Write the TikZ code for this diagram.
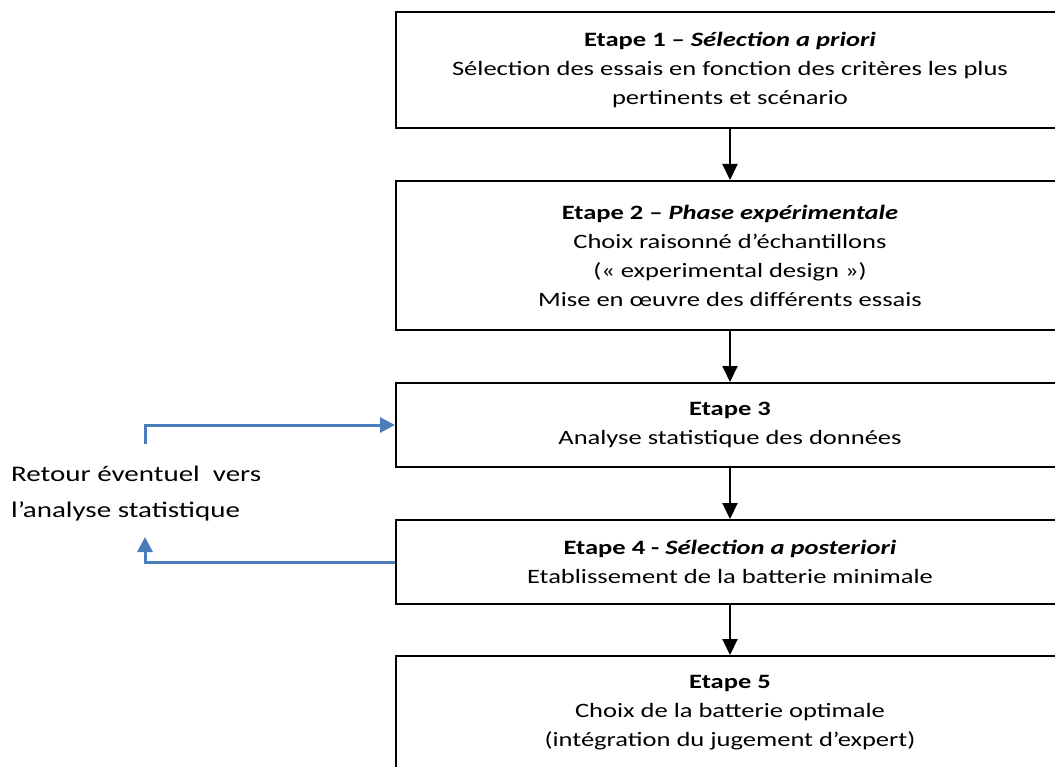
\documentclass[tikz,border=0pt]{standalone}
\usepackage{fontspec}
\setmainfont{Carlito}
\newfontfamily\widefont[FakeStretch=1.3]{Carlito}
\usetikzlibrary{arrows.meta}
\definecolor{linkblue}{RGB}{74,126,187}
\tikzset{
  stagebox/.style={draw=black, line width=2pt, minimum width=668pt, align=center,
    font=\widefont\fontsize{20.4}{29}\selectfont, inner sep=0pt},
  flowarrow/.style={draw=black, line width=2pt, -{Triangle[length=16pt,width=15pt]}},
  backarrow/.style={draw=linkblue, line width=3pt, -{Triangle[length=15pt,width=15pt]}},
  sidelabel/.style={align=left, anchor=west, font=\widefont\fontsize{22.3}{36}\selectfont, inner sep=0pt}
}
\begin{document}
\begin{tikzpicture}[x=1pt,y=-1pt]
\clip (0,0) rectangle (1055,767);
\fill[white] (0,0) rectangle (1055,767);

% the five stages
\node[stagebox, minimum height=116pt] (s1) at (730,70)
  {\textbf{Etape 1 – \textit{Sélection a priori}}\\
   Sélection des essais en fonction des critères les plus\\
   pertinents et scénario};
\node[stagebox, minimum height=149pt] (s2) at (730,255.5)
  {\textbf{Etape 2 – \textit{Phase expérimentale}}\\
   Choix raisonné d’échantillons\\
   (« experimental design »)\\
   Mise en œuvre des différents essais};
\node[stagebox, minimum height=84pt] (s3) at (730,425)
  {\textbf{Etape 3}\\
   Analyse statistique des données};
\node[stagebox, minimum height=84pt] (s4) at (730,562)
  {\textbf{Etape 4 - \textit{Sélection a posteriori}}\\
   Etablissement de la batterie minimale};
\node[stagebox, minimum height=113pt] (s5) at (730,712.5)
  {\textbf{Etape 5}\\
   Choix de la batterie optimale\\
   (intégration du jugement d’expert)};

\draw[flowarrow] (s1) -- (s2);
\draw[flowarrow] (s2) -- (s3);
\draw[flowarrow] (s3) -- (s4);
\draw[flowarrow] (s4) -- (s5);

% feedback loop
\node[sidelabel] (ret) at (11,494)
  {Retour éventuel\ \ vers\\ l’analyse statistique};

\coordinate (up) at (145,443.5);
\coordinate (down) at (145,537);
\draw[backarrow] (up) |- (s3.west);
\draw[backarrow] (s4.west) -| (down);
\end{tikzpicture}
\end{document}
